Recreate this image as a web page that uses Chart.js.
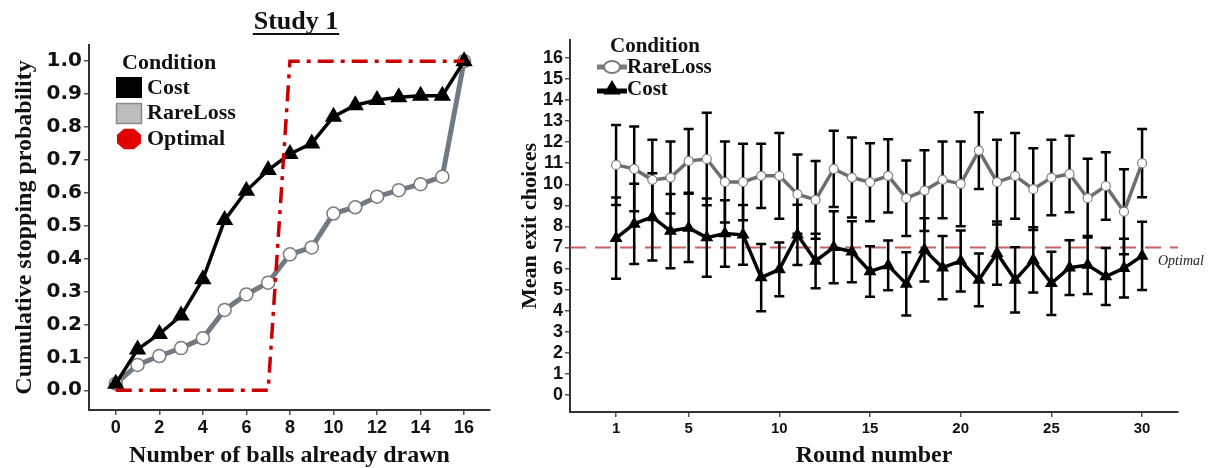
<!DOCTYPE html>
<html>
<head>
<meta charset="utf-8">
<script src="https://cdn.jsdelivr.net/npm/chart.js@4.4.0/dist/chart.umd.min.js"></script>
<style>
  html, body { margin: 0; padding: 0; background: #fff; }
  #wrap { position: relative; width: 1211px; height: 468px; overflow: hidden; }
  #left { position: absolute; left: 0; top: 0; }
  #right { position: absolute; left: 500px; top: 0; }
</style>
</head>
<body>
<div id="wrap">
  <canvas id="left" width="500" height="468"></canvas>
  <canvas id="right" width="711" height="468"></canvas>
</div>
<script>
// Left panel: cumulative stopping probability
const ballsDrawn = [0, 1, 2, 3, 4, 5, 6, 7, 8, 9, 10, 11, 12, 13, 14, 15, 16];
const ballTicks = [0, 2, 4, 6, 8, 10, 12, 14, 16];
const probTicks = [0.0, 0.1, 0.2, 0.3, 0.4, 0.5, 0.6, 0.7, 0.8, 0.9, 1.0];
const costCum = [0.02, 0.124, 0.171, 0.227, 0.337, 0.517, 0.606, 0.669, 0.718, 0.75, 0.831, 0.866, 0.882, 0.89, 0.895, 0.895, 1.0];
const rareCum = [0.02, 0.077, 0.104, 0.128, 0.158, 0.244, 0.291, 0.327, 0.413, 0.434, 0.537, 0.556, 0.588, 0.608, 0.626, 0.649, 1.0];
const optimalCum = [0, 0, 0, 0, 0, 0, 0, 0, 1, 1, 1, 1, 1, 1, 1, 1, 1];

// Right panel: mean exit choices per round
const rounds = [1, 2, 3, 4, 5, 6, 7, 8, 9, 10, 11, 12, 13, 14, 15, 16, 17, 18, 19, 20, 21, 22, 23, 24, 25, 26, 27, 28, 29, 30];
const roundTicks = [1, 5, 10, 15, 20, 25, 30];
const exitTicks = [0, 1, 2, 3, 4, 5, 6, 7, 8, 9, 10, 11, 12, 13, 14, 15, 16];
const rareMean = [10.92, 10.73, 10.21, 10.32, 11.11, 11.20, 10.11, 10.11, 10.40, 10.40, 9.53, 9.26, 10.73, 10.32, 10.10, 10.40, 9.34, 9.70, 10.21, 10.02, 11.60, 10.10, 10.40, 9.77, 10.32, 10.49, 9.34, 9.92, 8.70, 11.00];
const rareErr = [1.90, 2.01, 1.91, 1.71, 1.51, 2.20, 1.92, 1.82, 1.53, 2.03, 1.88, 1.85, 1.81, 1.90, 1.85, 1.74, 1.79, 1.92, 1.82, 2.01, 1.82, 2.01, 2.03, 1.94, 1.79, 1.82, 1.87, 1.60, 2.02, 1.62];
const costMean = [7.44, 8.12, 8.45, 7.78, 7.93, 7.47, 7.66, 7.60, 5.57, 5.96, 7.60, 6.36, 7.01, 6.80, 5.86, 6.15, 5.27, 6.89, 6.04, 6.36, 5.46, 6.73, 5.46, 6.41, 5.30, 6.04, 6.17, 5.62, 6.02, 6.60];
const costErr = [1.93, 1.90, 2.07, 1.76, 1.62, 1.86, 1.58, 1.42, 1.60, 1.28, 1.43, 1.29, 1.71, 1.45, 1.20, 1.18, 1.50, 1.50, 1.50, 1.45, 1.25, 1.50, 1.55, 1.55, 1.50, 1.30, 1.38, 1.35, 1.40, 1.62];
const optimalExit = 7;

const serif = "'Liberation Serif', 'Times New Roman', serif";
const sans = "'Liberation Sans', Arial, sans-serif";
const wide = "'DejaVu Sans', Verdana, sans-serif";

function toPoints(xs, ys) {
  return xs.map((x, i) => ({ x: x, y: ys[i] }));
}

function triangle(ctx, x, y, r) {
  ctx.beginPath();
  ctx.moveTo(x, y - r);
  ctx.lineTo(x + r * 0.95, y + r * 0.6);
  ctx.lineTo(x - r * 0.95, y + r * 0.6);
  ctx.closePath();
  ctx.fill();
}

// Title, underline and legend for the left panel
const leftDecor = {
  id: 'leftDecor',
  afterDraw(chart) {
    const ctx = chart.ctx;
    ctx.save();
    ctx.fillStyle = '#111';
    ctx.font = 'bold 26px ' + serif;
    ctx.textAlign = 'center';
    ctx.textBaseline = 'alphabetic';
    ctx.fillText('Study 1', 296, 29);
    const w = ctx.measureText('Study 1').width;
    ctx.fillRect(296 - w / 2 - 1, 33, w + 2, 2);

    ctx.textAlign = 'left';
    ctx.textBaseline = 'middle';
    ctx.font = 'bold 22px ' + serif;
    ctx.fillText('Condition', 122, 63);
    ctx.fillText('Cost', 147, 88);
    ctx.fillText('RareLoss', 147, 113);
    ctx.fillText('Optimal', 147, 139);

    ctx.fillStyle = '#000';
    ctx.fillRect(116, 77, 26, 21);
    ctx.fillStyle = '#bdbdbd';
    ctx.fillRect(116, 103, 26, 21);
    ctx.strokeStyle = '#8a8a8a';
    ctx.lineWidth = 1.5;
    ctx.strokeRect(116.5, 103.5, 25, 20);

    // red octagon for Optimal
    ctx.fillStyle = '#e00000';
    ctx.beginPath();
    for (let k = 0; k < 8; k++) {
      const a = Math.PI / 8 + k * Math.PI / 4;
      const px = 129 + 13 * Math.cos(a);
      const py = 139 + 11 * Math.sin(a);
      if (k === 0) ctx.moveTo(px, py); else ctx.lineTo(px, py);
    }
    ctx.closePath();
    ctx.fill();
    ctx.restore();
  }
};

// Error bars, optimal line and legend for the right panel
const rightDecor = {
  id: 'rightDecor',
  beforeDatasetsDraw(chart) {
    const { ctx, chartArea, scales } = chart;
    const x = scales.x, y = scales.y;
    ctx.save();
    const yo = y.getPixelForValue(optimalExit);
    ctx.strokeStyle = 'rgba(190, 70, 70, 0.85)';
    ctx.lineWidth = 2;
    ctx.setLineDash([16, 9]);
    ctx.beginPath();
    ctx.moveTo(chartArea.left, yo);
    ctx.lineTo(chartArea.right, yo);
    ctx.stroke();
    ctx.setLineDash([]);

    ctx.strokeStyle = '#000';
    ctx.lineWidth = 2.5;
    [[costMean, costErr], [rareMean, rareErr]].forEach(([m, e]) => {
      rounds.forEach((r, i) => {
        const px = x.getPixelForValue(r);
        const top = y.getPixelForValue(m[i] + e[i]);
        const bot = y.getPixelForValue(m[i] - e[i]);
        ctx.beginPath();
        ctx.moveTo(px, top); ctx.lineTo(px, bot);
        ctx.moveTo(px - 5, top); ctx.lineTo(px + 5, top);
        ctx.moveTo(px - 5, bot); ctx.lineTo(px + 5, bot);
        ctx.stroke();
      });
    });
    ctx.restore();
  },
  afterDraw(chart) {
    const { ctx, chartArea, scales } = chart;
    ctx.save();
    ctx.fillStyle = '#222';
    ctx.font = 'italic 14px ' + serif;
    ctx.textBaseline = 'middle';
    ctx.fillText('Optimal', chartArea.right - 20, scales.y.getPixelForValue(optimalExit) + 14);

    ctx.fillStyle = '#111';
    ctx.font = 'bold 21px ' + serif;
    ctx.fillText('Condition', 110, 47);
    ctx.fillText('RareLoss', 127, 68);
    ctx.fillText('Cost', 127, 90);

    // RareLoss key
    ctx.strokeStyle = '#7a7a7a';
    ctx.lineWidth = 5;
    ctx.beginPath(); ctx.moveTo(97, 67); ctx.lineTo(127, 67); ctx.stroke();
    ctx.fillStyle = '#fff';
    ctx.lineWidth = 2;
    ctx.beginPath(); ctx.ellipse(112, 67, 8, 6, 0, 0, Math.PI * 2); ctx.fill(); ctx.stroke();
    // Cost key
    ctx.strokeStyle = '#000';
    ctx.lineWidth = 5;
    ctx.beginPath(); ctx.moveTo(97, 91); ctx.lineTo(127, 91); ctx.stroke();
    ctx.fillStyle = '#000';
    triangle(ctx, 112, 89, 9);
    ctx.restore();
  }
};

function axisStyle() {
  return {
    grid: { drawOnChartArea: false, drawTicks: true, tickLength: 5, color: '#555', lineWidth: 1.5 },
    border: { color: '#333', width: 2 }
  };
}

new Chart(document.getElementById('left'), {
  type: 'line',
  data: {
    datasets: [
      {
        label: 'Optimal',
        data: toPoints(ballsDrawn, optimalCum),
        borderColor: '#c80000',
        borderWidth: 3.5,
        borderDash: [16, 7, 4, 7],
        pointRadius: 0,
        tension: 0
      },
      {
        label: 'Cost',
        data: toPoints(ballsDrawn, costCum),
        borderColor: '#000',
        borderWidth: 3.5,
        pointStyle: 'triangle',
        pointRadius: 6.5,
        pointBackgroundColor: '#000',
        pointBorderColor: '#000',
        tension: 0
      },
      {
        label: 'RareLoss',
        data: toPoints(ballsDrawn, rareCum),
        borderColor: '#6f7a84',
        borderWidth: 5,
        pointStyle: 'circle',
        pointRadius: 6.5,
        pointBackgroundColor: '#fff',
        pointBorderColor: '#7a7a7a',
        pointBorderWidth: 1.5,
        tension: 0
      }
    ]
  },
  options: {
    responsive: false,
    animation: false,
    layout: { padding: { left: 0, right: 8, top: 45, bottom: 0 } },
    plugins: { legend: { display: false }, tooltip: { enabled: false } },
    scales: {
      x: Object.assign(axisStyle(), {
        type: 'linear',
        min: -1.23,
        max: 17.19,
        afterBuildTicks: s => { s.ticks = ballTicks.map(v => ({ value: v })); },
        afterFit: s => { s.height = 58; },
        ticks: { font: { family: sans, weight: 'bold', size: 18 }, color: '#111', padding: 2, maxRotation: 0, autoSkip: false },
        title: { display: true, text: 'Number of balls already drawn', color: '#111', font: { family: serif, weight: 'bold', size: 24, lineHeight: 1 }, padding: 0 }
      }),
      y: Object.assign(axisStyle(), {
        type: 'linear',
        min: -0.06,
        max: 1.049,
        afterBuildTicks: s => { s.ticks = probTicks.map(v => ({ value: v })); },
        afterFit: s => { s.width = 89; },
        ticks: { font: { family: wide, weight: 'bold', size: 20 }, color: '#111', padding: 2, callback: v => v.toFixed(1) },
        title: { display: true, text: 'Cumulative stopping probability', color: '#111', font: { family: serif, weight: 'bold', size: 24 }, padding: { top: 10, bottom: 0 } }
      })
    }
  },
  plugins: [leftDecor]
});

new Chart(document.getElementById('right'), {
  type: 'line',
  data: {
    datasets: [
      {
        label: 'Cost',
        data: toPoints(rounds, costMean),
        borderColor: '#000',
        borderWidth: 3.5,
        pointStyle: 'triangle',
        pointRadius: 4,
        pointBackgroundColor: '#000',
        pointBorderColor: '#000',
        tension: 0
      },
      {
        label: 'RareLoss',
        data: toPoints(rounds, rareMean),
        borderColor: '#6e6e6e',
        borderWidth: 3.5,
        pointStyle: 'circle',
        pointRadius: 4.5,
        pointBackgroundColor: '#fff',
        pointBorderColor: '#808080',
        pointBorderWidth: 1.2,
        tension: 0
      }
    ]
  },
  options: {
    responsive: false,
    animation: false,
    layout: { padding: { left: 0, right: 33, top: 40, bottom: 0 } },
    plugins: { legend: { display: false }, tooltip: { enabled: false } },
    scales: {
      x: Object.assign(axisStyle(), {
        type: 'linear',
        min: -1.54,
        max: 31.98,
        afterBuildTicks: s => { s.ticks = roundTicks.map(v => ({ value: v })); },
        afterFit: s => { s.height = 56; },
        ticks: { font: { family: sans, weight: 'bold', size: 15 }, color: '#111', padding: 3, maxRotation: 0, autoSkip: false },
        title: { display: true, text: 'Round number', color: '#111', font: { family: serif, weight: 'bold', size: 24, lineHeight: 1 }, padding: 0 }
      }),
      y: Object.assign(axisStyle(), {
        type: 'linear',
        min: -0.81,
        max: 16.85,
        afterBuildTicks: s => { s.ticks = exitTicks.map(v => ({ value: v })); },
        afterFit: s => { s.width = 70; },
        ticks: { font: { family: sans, weight: 'bold', size: 18 }, color: '#111', padding: 2, autoSkip: false },
        title: { display: true, text: 'Mean exit choices', color: '#111', font: { family: serif, weight: 'bold', size: 22 }, padding: { top: 17, bottom: 0 } }
      })
    }
  },
  plugins: [rightDecor]
});
</script>
</body>
</html>
